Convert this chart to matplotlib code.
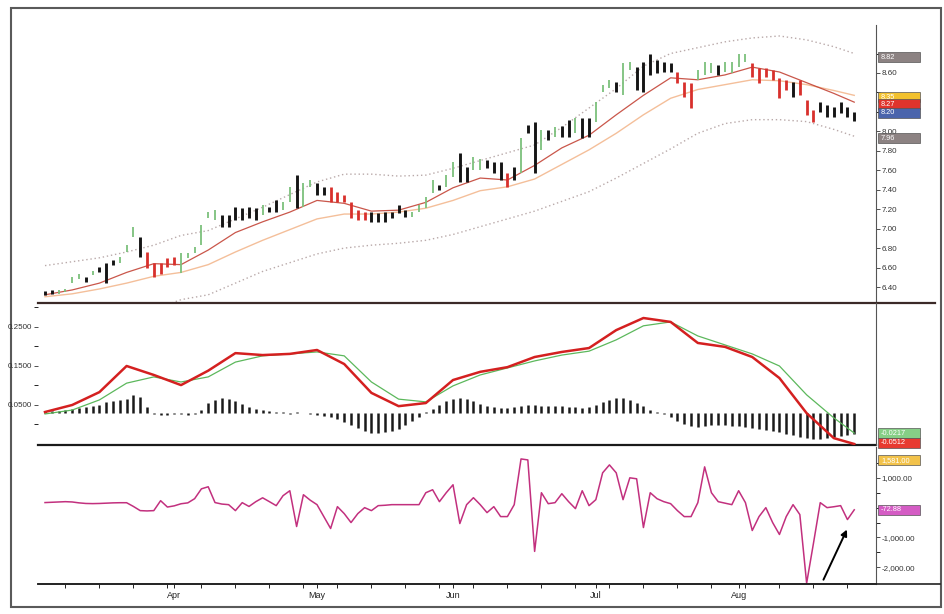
import numpy as np
import matplotlib.pyplot as plt
from matplotlib.patches import Rectangle
from matplotlib.lines import Line2D
from matplotlib.transforms import blended_transform_factory

plt.rcParams["font.family"] = ["Liberation Sans", "DejaVu Sans"]

# ---- data (one entry per trading day) ----
month_labels = ["Apr", "May", "Jun", "Jul", "Aug"]
month_starts = [19, 40, 60, 81, 102]

bar_low = [
    6.32, 6.33, 6.33, 6.35, 6.44, 6.48, 6.45, 6.52, 6.55, 6.44,
    6.63, 6.65, 6.76, 6.91, 6.71, 6.60, 6.50, 6.53, 6.61, 6.63,
    6.54, 6.70, 6.75, 6.83, 7.11, 7.09, 7.02, 7.02, 7.09, 7.09,
    7.11, 7.09, 7.14, 7.17, 7.17, 7.19, 7.27, 7.21, 7.22, 7.43,
    7.35, 7.35, 7.27, 7.27, 7.27, 7.11, 7.09, 7.09, 7.07, 7.07,
    7.07, 7.11, 7.16, 7.12, 7.12, 7.17, 7.21, 7.37, 7.40, 7.43,
    7.53, 7.48, 7.48, 7.60, 7.60, 7.62, 7.57, 7.50, 7.43, 7.50,
    7.57, 7.98, 7.57, 7.81, 7.91, 7.94, 7.94, 7.94, 7.98, 7.93,
    7.94, 8.10, 8.40, 8.45, 8.40, 8.37, 8.63, 8.43, 8.40, 8.58,
    8.60, 8.61, 8.61, 8.50, 8.35, 8.24, 8.53, 8.58, 8.60, 8.58,
    8.61, 8.60, 8.66, 8.71, 8.56, 8.50, 8.56, 8.53, 8.34, 8.43,
    8.35, 8.37, 8.17, 8.10, 8.20, 8.15, 8.15, 8.19, 8.15, 8.11,
]
bar_high = [
    6.36, 6.37, 6.37, 6.38, 6.50, 6.53, 6.50, 6.56, 6.61, 6.65,
    6.68, 6.71, 6.83, 7.02, 6.91, 6.76, 6.65, 6.65, 6.70, 6.71,
    6.75, 6.75, 6.81, 7.04, 7.17, 7.19, 7.14, 7.14, 7.22, 7.21,
    7.22, 7.21, 7.24, 7.22, 7.29, 7.27, 7.43, 7.55, 7.47, 7.50,
    7.47, 7.43, 7.43, 7.38, 7.35, 7.27, 7.19, 7.17, 7.17, 7.16,
    7.17, 7.17, 7.24, 7.19, 7.17, 7.24, 7.33, 7.50, 7.45, 7.55,
    7.68, 7.78, 7.63, 7.74, 7.72, 7.71, 7.68, 7.69, 7.57, 7.63,
    7.93, 8.07, 8.10, 8.01, 8.01, 8.04, 8.06, 8.12, 8.14, 8.14,
    8.14, 8.30, 8.48, 8.53, 8.51, 8.70, 8.71, 8.66, 8.71, 8.79,
    8.73, 8.71, 8.70, 8.61, 8.51, 8.50, 8.63, 8.71, 8.70, 8.68,
    8.71, 8.71, 8.79, 8.79, 8.70, 8.65, 8.65, 8.63, 8.55, 8.53,
    8.51, 8.53, 8.32, 8.22, 8.30, 8.27, 8.25, 8.30, 8.25, 8.20,
]
# impulse colour of each bar: g = green, r = red, k = neutral
bar_color = ("kkggggkgkk" "kgggkrrrrr" "ggggggkkkk" "kkgkkggkgg"
             "kkrrrrrrkk" "kkkkggggkg" "gkkggkkkrk" "gkkgkgkkgk"
             "kgggkggkkk" "kkkrrrgggk" "ggggrrrrrr" "krrrkkkkkk")

# smooth lines, read every 4th day
line_idx = list(range(0, 120, 4)) + [119]
ema_fast = [6.32, 6.37, 6.44, 6.55, 6.64, 6.63, 6.78, 6.96, 7.07, 7.17,
            7.29, 7.26, 7.18, 7.19, 7.27, 7.42, 7.52, 7.50, 7.65, 7.83,
            7.96, 8.17, 8.37, 8.55, 8.53, 8.58, 8.66, 8.61, 8.50, 8.39, 8.30]
ema_slow = [6.30, 6.33, 6.38, 6.44, 6.51, 6.55, 6.63, 6.76, 6.88, 6.99,
            7.10, 7.15, 7.15, 7.17, 7.21, 7.29, 7.39, 7.43, 7.51, 7.66,
            7.81, 7.98, 8.17, 8.34, 8.43, 8.48, 8.53, 8.52, 8.48, 8.42, 8.37]
env_upper = [6.62, 6.66, 6.70, 6.76, 6.83, 6.93, 6.98, 7.10, 7.22, 7.35,
             7.48, 7.56, 7.56, 7.54, 7.55, 7.62, 7.70, 7.78, 7.86, 8.04,
             8.24, 8.44, 8.67, 8.80, 8.86, 8.92, 8.96, 8.98, 8.94, 8.87, 8.80]
env_lower = [6.00, 6.03, 6.07, 6.12, 6.17, 6.27, 6.32, 6.44, 6.56, 6.65,
             6.74, 6.80, 6.83, 6.85, 6.88, 6.94, 7.02, 7.10, 7.18, 7.28,
             7.38, 7.52, 7.67, 7.82, 7.98, 8.08, 8.12, 8.12, 8.10, 8.02, 7.95]
macd_line = [0.032, 0.050, 0.083, 0.150, 0.127, 0.101, 0.138, 0.183, 0.178, 0.181,
             0.191, 0.155, 0.081, 0.047, 0.055, 0.114, 0.135, 0.147, 0.173, 0.186,
             0.196, 0.242, 0.273, 0.263, 0.209, 0.199, 0.173, 0.119, 0.029, -0.035, -0.050]
macd_signal = [0.027, 0.037, 0.063, 0.106, 0.122, 0.109, 0.122, 0.160, 0.176, 0.181,
               0.186, 0.176, 0.109, 0.065, 0.058, 0.099, 0.127, 0.145, 0.163, 0.178,
               0.188, 0.217, 0.253, 0.263, 0.227, 0.204, 0.181, 0.150, 0.076, 0.017, -0.022]
# histogram, in thousandths (own scale)
macd_hist = [
    2, 2, 2, 3, 4, 5, 6, 7, 8,
    11, 12, 13, 14, 18, 16, 6,
    -1, -2, -2, -1, -1, -2, -1,
    3, 10, 13, 15, 14, 12, 9,
    6, 4, 3, 2,
    1, 1, -1, 1, 0, -1,
    -2, -3, -4, -6,
    -9, -12, -15,
    -18, -20, -20, -19, -18, -16,
    -12, -8, -4,
    1, 4, 8,
    12, 14, 15, 14, 12,
    9, 7, 6, 5, 5,
    6, 7, 8, 8, 7, 7,
    7, 7, 6, 6, 5, 6,
    8, 11, 13, 15, 15, 13, 10, 7,
    3, 1, -1, -4,
    -8, -11, -13, -14,
    -13, -12, -12, -12, -13, -13, -14, -15,
    -16, -17, -18, -19, -21, -22,
    -24, -25, -26, -26, -25,
    -24, -23, -22, -21,
]
force_index = [
    170, 180, 190, 200, 190, 160, 140, 135, 140, 150,
    160, 165, 165, 40, -100, -110, -100, 233, 20, 60,
    130, 160, 300, 630, 700, 170, 120, 100, -100, 167,
    40, 200, 330, 200, 67, 400, 567, -633, 433, 250,
    100, -300, -700, 33, -200, -500, -200, 0, -100, 67,
    80, 100, 100, 100, 100, 100, 500, 600, 200, 500,
    767, -533, 100, 333, 100, -167, 33, -300, -300, 100,
    1633, 1600, -1467, 500, 133, 167, 467, 200, -33, 567,
    67, 267, 1167, 1433, 1167, 267, 1000, 967, -667, 500,
    300, 200, 133, -100, -300, -300, 167, 1367, 500, 200,
    150, 100, 567, 167, -767, -300, 0, -500, -900, -300,
    100, -233, -2533, -1200, 167, 0, 30, 67, -400, -73,
]

price_box_labels = ["8.82", "8.35", "8.27", "8.20", "7.96"]
macd_box_labels = ["-0.0217", "-0.0512"]
force_box_labels = ["1,581.00", "-72.88"]
force_box_value = 1581

BAR_COLORS = {"g": "#7cc07c", "r": "#d8302c", "k": "#151515"}
BAR_WIDTHS = {"g": 1.3, "r": 2.0, "k": 2.1}

W, H = 945, 614
fig = plt.figure(figsize=(W / 100, H / 100), dpi=100)
fig.patch.set_facecolor("white")

LEFT, RIGHT = 38, 876


def panel(top_px, bottom_px):
    return fig.add_axes([LEFT / W, 1 - bottom_px / H, (RIGHT - LEFT) / W,
                         (bottom_px - top_px) / H])


ax1 = panel(25, 302)
ax2 = panel(303, 445)
ax3 = panel(447, 584)

x = np.arange(len(bar_low))
xl = np.array(line_idx)

for ax in (ax1, ax2, ax3):
    ax.set_xlim(-1.03, 122.2)
    for s in ("left", "top", "bottom"):
        ax.spines[s].set_visible(False)
    ax.spines["right"].set_color("#555555")
    ax.spines["right"].set_linewidth(0.8)
    ax.yaxis.tick_right()
    ax.tick_params(axis="y", labelsize=5.8, length=3, width=0.6,
                   colors="#333333", pad=1)
    ax.tick_params(axis="y", which="minor", length=3, width=0.6)
    ax.tick_params(axis="x", which="both", bottom=False, labelbottom=False)
    ax.set_facecolor("none")

# ---- price panel ----
ax1.set_ylim(6.246, 9.093)
ax1.plot(xl, env_upper, ls=(0, (1, 2)), color="#b9a9a9", lw=1.0)
ax1.plot(xl, env_lower, ls=(0, (1, 2)), color="#b9a9a9", lw=1.0)
ax1.plot(xl, ema_slow, color="#f4bf9a", lw=1.0)
ax1.plot(xl, ema_fast, color="#c0392b", lw=0.9, alpha=0.85)
lo = np.array(bar_low)
hi = np.array(bar_high)
for code in "gkr":
    m = np.array([c == code for c in bar_color])
    ax1.vlines(x[m], lo[m], hi[m], color=BAR_COLORS[code], lw=BAR_WIDTHS[code])
# labels under the value boxes are hidden, their ticks kept as minor ticks
ax1.set_yticks([6.4, 6.6, 6.8, 7.0, 7.2, 7.4, 7.6, 7.8, 8.0, 8.6])
ax1.set_yticks([8.2, 8.4, 8.8], minor=True)
ax1.yaxis.set_major_formatter(plt.FuncFormatter(lambda v, p: f"{v:.2f}"))

# ---- MACD panel ----
ax2.set_ylim(-0.0526, 0.3115)
ax2h = ax2.twinx()
ax2h.set_ylim(-0.032, 0.110)
ax2h.axis("off")
ax2h.vlines(x, 0, np.array(macd_hist) / 1000, color="#1a1a1a", lw=1.8)
ax2.plot(xl, macd_signal, color="#5cb85c", lw=0.9, zorder=3)
ax2.plot(xl, macd_line, color="#d42020", lw=1.8, zorder=4)
ax2.set_yticks([0.05, 0.15, 0.25])
ax2.set_yticks([0.0, 0.10, 0.20, 0.30], minor=True)
ax2.yaxis.set_major_formatter(plt.FuncFormatter(lambda v, p: f"{v:.4f}"))
ax2.set_zorder(2)
ax2h.set_zorder(1)

# ---- force index panel ----
ax3.set_ylim(-2560, 2033)
ax3.plot(x, force_index, color="#c2307e", lw=1.1)
ax3.set_yticks([-2000, -1000, 1000])
ax3.set_yticks([-1500, -500, 0, 500, 1500], minor=True)
ax3.yaxis.set_major_formatter(plt.FuncFormatter(lambda v, p: f"{v:,.2f}"))
ax3.spines["bottom"].set_visible(True)
ax3.spines["bottom"].set_color("#222222")
ax3.spines["bottom"].set_linewidth(1.2)
ax3.set_xticks(month_starts)
ax3.set_xticklabels(month_labels)
ax3.set_xticks(np.arange(3, 120, 5), minor=True)
ax3.tick_params(axis="x", which="both", bottom=True, labelbottom=True,
                length=3, width=0.7, labelsize=6.5, pad=2, colors="#222222")
ax3.annotate("", xy=(118.1, -650), xytext=(114.3, -2500),
             arrowprops=dict(arrowstyle="-|>", color="black", lw=1.4,
                             mutation_scale=9), annotation_clip=False)


def value_box(ax, y, text, fc, px_h=10, tc="white"):
    tr = blended_transform_factory(ax.transAxes, ax.transData)
    y0, y1 = ax.get_ylim()
    h = (y1 - y0) * px_h / (ax.bbox.height)
    ax.add_patch(Rectangle((1.002, y - h / 2), 0.05, h, transform=tr,
                           facecolor=fc, edgecolor="#555555", lw=0.5,
                           clip_on=False, zorder=10))
    ax.text(1.006, y, text, transform=tr, fontsize=5.3, color=tc,
            ha="left", va="center", clip_on=False, zorder=11)


value_box(ax1, env_upper[-1] - 0.04, price_box_labels[0], "#8c8282")
value_box(ax1, ema_slow[-1] - 0.02, price_box_labels[1], "#f2c12e")
value_box(ax1, ema_fast[-1] - 0.02, price_box_labels[2], "#e0342c")
value_box(ax1, bar_high[-1] - 0.01, price_box_labels[3], "#4a64ac")
value_box(ax1, env_lower[-1] - 0.02, price_box_labels[4], "#8c8282")
value_box(ax2, macd_signal[-1], macd_box_labels[0], "#86cf86")
value_box(ax2, macd_line[-1] + 0.003, macd_box_labels[1], "#e83a30")
value_box(ax3, force_box_value, force_box_labels[0], "#f2c24a")
value_box(ax3, force_index[-1], force_box_labels[1], "#d45cc4")

# separator rules and page frame
for y_px, x1_px, col, lw in [(302.5, 935, "#3b2a28", 1.6),
                             (444.5, 876, "#1a1a1a", 1.6),
                             (584, 940, "#222222", 1.2)]:
    fig.add_artist(Line2D([LEFT / W, x1_px / W], [1 - y_px / H, 1 - y_px / H],
                          color=col, lw=lw, transform=fig.transFigure))
fig.add_artist(Rectangle((11 / W, 1 - 607 / H), 930 / W, 599 / H,
                         transform=fig.transFigure, fill=False,
                         edgecolor="#5a5a5a", lw=1.5))

fig.savefig("out.png", dpi=100)
